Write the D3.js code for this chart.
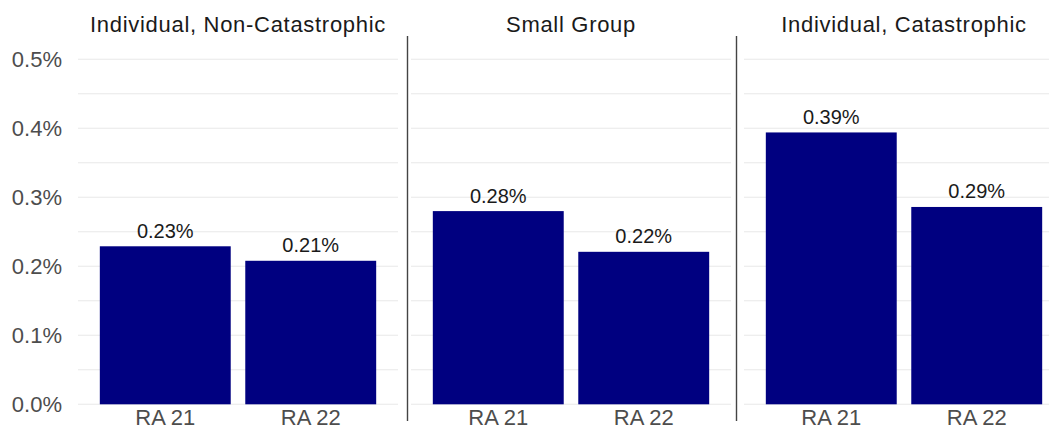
<!DOCTYPE html>
<html>
  <head>
    <meta charset="utf-8" />
    <title>RA 21 vs RA 22</title>
    <style>
      body { margin: 0; background: #fff; }
      svg text { font-family: "Liberation Sans", Arial, sans-serif; }
      .grid line { stroke: #e8e8e8; stroke-width: 1.1; }
      .tick-y { font-size: 22px; fill: #4d4d4d; }
      .tick-x { font-size: 22px; fill: #4d4d4d; }
      .strip { font-size: 22px; fill: #1a1a1a; letter-spacing: 0.7px; }
      .bar-label { font-size: 20px; fill: #1a1a1a; }
      .sep { stroke: #444; stroke-width: 1.4; }
    </style>
  </head>
  <body>
    <div id="chart"></div>
    <script src="https://cdn.jsdelivr.net/npm/d3@7"></script>
    <script>
      // data (values in percent)
      var panels = ["Individual, Non-Catastrophic", "Small Group", "Individual, Catastrophic"];
      var years = ["RA 21", "RA 22"];
      var ra21 = [0.229, 0.280, 0.394];
      var ra22 = [0.208, 0.221, 0.286];
      var yTicks = [0, 0.1, 0.2, 0.3, 0.4, 0.5];
      var gridTicks = [0, 0.05, 0.1, 0.15, 0.2, 0.25, 0.3, 0.35, 0.4, 0.45, 0.5];

      var width = 1049, height = 430;
      var panelW = 320, panelGap = 13, left = 78;
      var sepX = [407.5, 736.5];

      var svg = d3.select("#chart").append("svg")
        .attr("width", width)
        .attr("height", height);

      var y = d3.scaleLinear().domain([0, 0.5]).range([404.3, 59.3]);

      var panelX = d3.scaleBand()
        .domain(panels)
        .range([left, left + panels.length * panelW + (panels.length - 1) * panelGap])
        .paddingInner(panelGap / (panelW + panelGap));

      // y tick labels
      svg.append("g").selectAll("text")
        .data(yTicks)
        .enter().append("text")
        .attr("class", "tick-y")
        .attr("x", 62)
        .attr("y", d => y(d))
        .attr("dy", "0.36em")
        .attr("text-anchor", "end")
        .text(d => d3.format(".1f")(d) + "%");

      panels.forEach(function(name, i) {
        var x0 = panelX(name);
        var g = svg.append("g");

        var x = d3.scaleBand()
          .domain(years)
          .range([x0, x0 + panelW])
          .paddingInner(0.1)
          .paddingOuter(0.15);

        g.append("g").attr("class", "grid").selectAll("line")
          .data(gridTicks)
          .enter().append("line")
          .attr("x1", x0)
          .attr("x2", x0 + panelW)
          .attr("y1", d => y(d))
          .attr("y2", d => y(d));

        var vals = [ra21[i], ra22[i]];

        g.selectAll("rect")
          .data(vals)
          .enter().append("rect")
          .attr("x", (d, j) => x(years[j]))
          .attr("width", x.bandwidth())
          .attr("y", d => y(d))
          .attr("height", d => y(0) - y(d))
          .attr("fill", "#000080");

        g.selectAll(".bar-label")
          .data(vals)
          .enter().append("text")
          .attr("class", "bar-label")
          .attr("x", (d, j) => x(years[j]) + x.bandwidth() / 2)
          .attr("y", d => y(d) - 8.5)
          .attr("text-anchor", "middle")
          .text(d => d3.format(".2f")(d) + "%");

        g.selectAll(".tick-x")
          .data(years)
          .enter().append("text")
          .attr("class", "tick-x")
          .attr("x", d => x(d) + x.bandwidth() / 2)
          .attr("y", 425)
          .attr("text-anchor", "middle")
          .text(d => d);

        g.append("text")
          .attr("class", "strip")
          .attr("x", x0 + panelW / 2)
          .attr("y", 31.5)
          .attr("text-anchor", "middle")
          .text(name);
      });

      // facet separators
      svg.append("g").selectAll("line")
        .data(sepX)
        .enter().append("line")
        .attr("class", "sep")
        .attr("x1", d => d).attr("x2", d => d)
        .attr("y1", 36).attr("y2", 421);
    </script>
  </body>
</html>
